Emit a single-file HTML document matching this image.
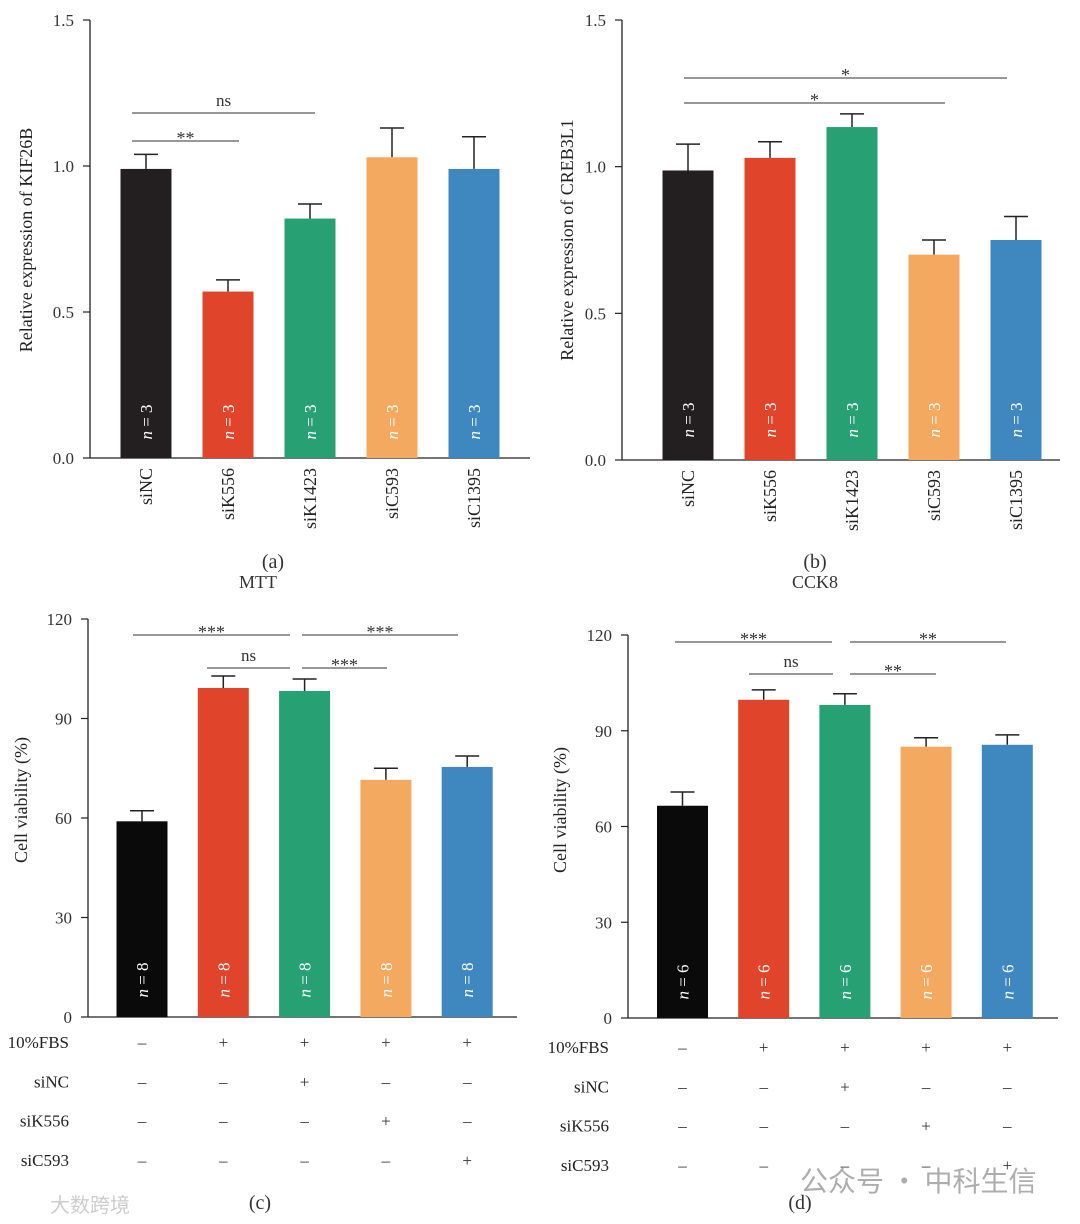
<!DOCTYPE html>
<html><head><meta charset="utf-8"><style>
html,body{margin:0;padding:0;background:#fff;}
svg{display:block;font-family:"Liberation Serif",serif;}
</style></head><body>
<svg id="fig" width="1080" height="1224" viewBox="0 0 1080 1224" xmlns="http://www.w3.org/2000/svg"></svg>
<script>
const colorsAB = ['#231f20','#e0442a','#27a074','#f4a960','#3f88bf'];
const colorsCD = ['#0a0a0a','#e0442a','#27a074','#f4a960','#3f88bf'];
const catsAB = ['siNC','siK556','siK1423','siC593','siC1395'];
const valsA = [0.99,0.57,0.82,1.03,0.99];
const errA = [0.05,0.04,0.05,0.10,0.11];
const valsB = [0.987,1.03,1.135,0.70,0.75];
const errB = [0.09,0.055,0.045,0.05,0.08];
const ticksAB = [0.0,0.5,1.0,1.5];
const tickLabelsAB = ['0.0','0.5','1.0','1.5'];
const valsC = [59,99.2,98.3,71.5,75.4];
const errC = [3.2,3.6,3.6,3.5,3.3];
const valsD = [66.5,99.7,98.1,85,85.6];
const errD = [4.3,3.1,3.5,2.8,3.1];
const ticksCD = [0,30,60,90,120];
const nC = ['8','8','8','8','8'];
const nD = ['6','6','6','6','6'];
const nAB = ['3','3','3','3','3'];
const rowLabels = ['10%FBS','siNC','siK556','siC593'];
const rowSigns = [['–','+','+','+','+'],['–','–','+','–','–'],['–','–','–','+','–'],['–','–','–','–','+']];

const svg = document.getElementById('fig');
const NS='http://www.w3.org/2000/svg';
function mk(tag, attrs, parent){const e=document.createElementNS(NS,tag);for(const k in attrs)e.setAttribute(k,attrs[k]);(parent||svg).appendChild(e);return e;}
function txt(s, attrs, parent){const e=mk('text',attrs,parent);e.textContent=s;return e;}

function panel(o){
  const g=mk('g',{});
  
  
  const y=v=>o.y0-(v-o.min)/(o.max-o.min)*(o.y0-o.y1);
  // axes
  const ya=mk('line',{x1:o.ax,y1:o.y1,x2:o.ax,y2:o.y0,stroke:'#222','stroke-width':1.3},g);
  
  
  const xa=mk('line',{x1:o.ax,y1:o.y0,x2:o.xend,y2:o.y0,stroke:'#222','stroke-width':1.3},g);
  
  
  o.ticks.forEach((t,i)=>{
    mk('line',{x1:o.ax-7,y1:y(t),x2:o.ax,y2:y(t),stroke:'#222','stroke-width':1.2},g);
    const tl=txt(o.tickLabels[i],{x:o.ax-16,y:y(t)+6,'text-anchor':'end','font-size':17,fill:'#333'},g);
    
    
  });
  o.vals.forEach((v,i)=>{
    const cx=o.cx0+i*o.step;
    const top=y(v), et=y(v+o.err[i]);
    mk('line',{x1:cx,y1:top,x2:cx,y2:et,stroke:'#222','stroke-width':1.5},g);
    mk('line',{x1:cx-12,y1:et,x2:cx+12,y2:et,stroke:'#222','stroke-width':1.5},g);
    const b=mk('rect',{x:cx-o.bw/2,y:top,width:o.bw,height:o.y0-top,fill:o.colors[i]},g);
    
    
    const nt=mk('text',{transform:`translate(${cx+6},${o.nY}) rotate(-90)`,'text-anchor':'middle','font-size':17,fill:'#fff'},g);
    nt.innerHTML='<tspan font-style="italic">n</tspan> = '+o.n[i];
    
    
    if(o.cats){
      const cl=txt(o.cats[i],{transform:`translate(${cx+6},${o.y0+10}) rotate(-90)`,'text-anchor':'end','font-size':18,fill:'#222'},g);
      
      
    }
  });
  const yt=txt(o.ylabel,{transform:`translate(${o.ylx},${o.yly}) rotate(-90)`,'text-anchor':'middle','font-size':18,fill:'#222'},g);
  
  
  o.sig.forEach(s=>{
    mk('line',{x1:s[0],y1:s[2],x2:s[1],y2:s[2],stroke:'#777','stroke-width':1.4},g);
    const st=txt(s[3],{x:(s[0]+s[1])/2,y:s[2]-(s[3]==='ns'?7:-3),'text-anchor':'middle','font-size':s[3]==='ns'?17:18,fill:'#333'},g);
    
    
  });
  const pl=txt(o.plabel,{x:o.plx,y:o.ply,'text-anchor':'middle','font-size':20,fill:'#333'},g);
  
  
  if(o.title){
    const ti=txt(o.title,{x:o.tx,y:588,'text-anchor':'middle','font-size':18,fill:'#333'},g);
    
    
  }
  if(o.rows){
    rowLabels.forEach((r,ri)=>{
      const ry=o.rowY0+ri*o.rowStep;
      const rl=txt(r,{x:o.rowLX,y:ry+6,'text-anchor':'end','font-size':17,fill:'#222'},g);
      
      
      rowSigns[ri].forEach((s,ci)=>{
        txt(s,{x:o.cx0+ci*o.step,y:ry+6,'text-anchor':'middle','font-size':17,fill:'#333'},g);
      });
    });
  }
}
panel({name:'panel-a',ax:90,xend:530,y0:458,y1:20,min:0,max:1.5,ticks:ticksAB,tickLabels:tickLabelsAB,vals:valsA,err:errA,cx0:146,step:82,bw:51,colors:colorsAB,cats:catsAB,n:nAB,nY:422,ylabel:'Relative expression of KIF26B',ylx:32,yly:240,
  sig:[[132,315,113,'ns'],[132,239,141,'**']],plabel:'(a)',plx:273,ply:568});
panel({name:'panel-b',ax:622,xend:1060,y0:460,y1:20,min:0,max:1.5,ticks:ticksAB,tickLabels:tickLabelsAB,vals:valsB,err:errB,cx0:688,step:82,bw:51,colors:colorsAB,cats:catsAB,n:nAB,nY:420,ylabel:'Relative expression of CREB3L1',ylx:573,yly:240,
  sig:[[684,1007,78,'*'],[684,945,103,'*']],plabel:'(b)',plx:815,ply:568});
panel({name:'panel-c',ax:88,xend:517,y0:1017,y1:619,min:0,max:120,ticks:ticksCD,tickLabels:ticksCD.map(String),vals:valsC,err:errC,cx0:142,step:81.3,bw:51,colors:colorsCD,n:nC,nY:980,ylabel:'Cell viability (%)',ylx:27,yly:800,
  sig:[[133,290,635,'***'],[302,458,635,'***'],[207,290,668,'ns'],[302,387,668,'***']],plabel:'(c)',plx:260,ply:1209,title:'MTT',tx:258,
  rows:true,rowY0:1042,rowStep:39.3,rowLX:69});
panel({name:'panel-d',ax:628,xend:1058,y0:1018,y1:635,min:0,max:120,ticks:ticksCD,tickLabels:ticksCD.map(String),vals:valsD,err:errD,cx0:682.5,step:81.2,bw:51,colors:colorsCD,n:nD,nY:982,ylabel:'Cell viability (%)',ylx:566,yly:810,
  sig:[[675,832,642,'***'],[850,1006,642,'**'],[749,833,674,'ns'],[850,936,674,'**']],plabel:'(d)',plx:800,ply:1209,title:'CCK8',tx:815,
  rows:true,rowY0:1047,rowStep:39.3,rowLX:609});
const wm=txt('公众号 · 中科生信',{x:800,y:1191,'font-size':28,fill:'#999','font-family':'"Noto Sans CJK SC",sans-serif','fill-opacity':0.8});


const wm2=txt('大数跨境',{x:50,y:1212,'font-size':20,fill:'#ccc','font-family':'"Noto Sans CJK SC",sans-serif'});


</script>
</body></html>
